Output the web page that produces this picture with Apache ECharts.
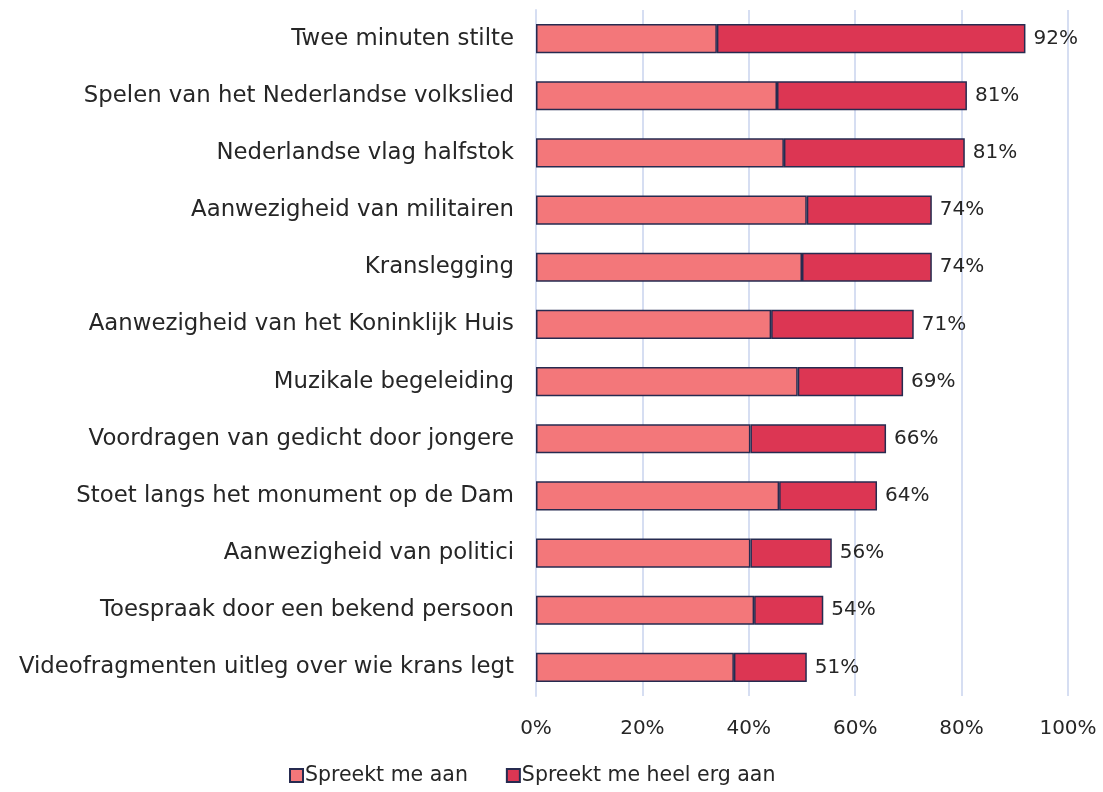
<!DOCTYPE html>
<html style="height: 100%">
<head>
    <meta charset="utf-8">
</head>
<body style="height: 100%; margin: 0">
    <div id="container" style="height: 100%"></div>

    <script type="text/javascript" src="https://cdn.jsdelivr.net/npm/echarts@6.0.0/dist/echarts.min.js"></script>
    <script type="text/javascript">
        var categories = [
            'Twee minuten stilte',
            'Spelen van het Nederlandse volkslied',
            'Nederlandse vlag halfstok',
            'Aanwezigheid van militairen',
            'Kranslegging',
            'Aanwezigheid van het Koninklijk Huis',
            'Muzikale begeleiding',
            'Voordragen van gedicht door jongere',
            'Stoet langs het monument op de Dam',
            'Aanwezigheid van politici',
            'Toespraak door een bekend persoon',
            'Videofragmenten uitleg over wie krans legt'
        ];
        var spreektAan = [34.0, 45.3, 46.6, 50.9, 50.0, 44.2, 49.2, 40.3, 45.7, 40.3, 41.0, 37.2];
        var spreektHeelErg = [58.0, 35.7, 34.0, 23.5, 24.4, 26.8, 19.8, 25.5, 18.4, 15.3, 13.0, 13.7];
        var totals = ['92%', '81%', '81%', '74%', '74%', '71%', '69%', '66%', '64%', '56%', '54%', '51%'];

        var dom = document.getElementById("container");
        var myChart = echarts.init(dom);
        var fontFamily = '"DejaVu Sans", sans-serif';
        var textColor = '#262626';
        var borderColor = '#262b50';
        var option;

        option = {
            animation: false,
            textStyle: { fontFamily: fontFamily },
            grid: {
                left: 536,
                right: 35,
                top: 10,
                bottom: 96,
                containLabel: false
            },
            legend: {
                bottom: 1,
                left: 284,
                itemWidth: 13,
                itemHeight: 13,
                itemGap: 38,
                icon: 'rect',
                textStyle: { fontSize: 20.5, color: textColor, fontFamily: fontFamily, padding: [0, 0, 0, -3] },
                data: ['Spreekt me aan', 'Spreekt me heel erg aan']
            },
            xAxis: {
                type: 'value',
                min: 0,
                max: 100,
                interval: 20,
                axisLabel: {
                    formatter: '{value}%',
                    fontSize: 20,
                    color: textColor,
                    margin: 23
                },
                axisLine: { show: false },
                axisTick: { show: false },
                splitLine: { show: true, lineStyle: { color: '#d6def2', width: 2 } }
            },
            yAxis: {
                type: 'category',
                inverse: true,
                data: categories,
                axisLabel: {
                    fontSize: 22.8,
                    color: textColor,
                    margin: 22
                },
                axisLine: { show: true, lineStyle: { color: '#d6def2', width: 2 } },
                axisTick: { show: false }
            },
            series: [
                {
                    name: 'Spreekt me aan',
                    type: 'bar',
                    stack: 'total',
                    barWidth: '51%',
                    data: spreektAan,
                    itemStyle: {
                        color: '#f3777a',
                        borderColor: borderColor,
                        borderWidth: 1.5
                    }
                },
                {
                    name: 'Spreekt me heel erg aan',
                    type: 'bar',
                    stack: 'total',
                    barWidth: '51%',
                    data: spreektHeelErg,
                    itemStyle: {
                        color: '#dc3653',
                        borderColor: borderColor,
                        borderWidth: 1.5
                    },
                    label: {
                        show: true,
                        position: 'right',
                        distance: 8,
                        fontSize: 20,
                        color: textColor,
                        formatter: function (p) { return totals[p.dataIndex]; }
                    }
                }
            ]
        };
        myChart.setOption(option);
    </script>
</body>
</html>
